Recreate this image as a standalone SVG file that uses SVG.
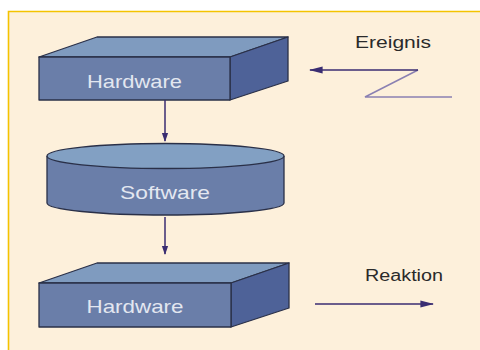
<svg xmlns="http://www.w3.org/2000/svg" width="480" height="350" viewBox="0 0 480 350">
  <defs>
    <style>
      .edge { stroke: #2a3048; stroke-width: 1.3; stroke-linejoin: round; }
      .top { fill: #7f9bbf; }
      .front { fill: #6a7ea9; }
      .side { fill: #4e6298; }
      .cyl-top { fill: #82a0c3; }
      .label-in { font-family: "Liberation Sans", Arial, sans-serif; font-size: 19px; fill: #e3e7f0; text-anchor: middle; }
      .label-out { font-family: "Liberation Sans", Arial, sans-serif; font-size: 16px; fill: #2a2a2a; text-anchor: middle; }
      .flow { stroke: #3a2d72; stroke-width: 1.5; fill: none; }
      .signal { stroke: #8a80b2; stroke-width: 1.5; fill: none; }
    </style>
    <marker id="head" viewBox="0 0 10 10" refX="9" refY="5" markerWidth="9" markerHeight="9" markerUnits="userSpaceOnUse" orient="auto">
      <path d="M0,1.5 L10,5 L0,8.5 Z" fill="#3a2d72"/>
    </marker>
    <marker id="head-wide" viewBox="0 0 10 10" refX="9" refY="5" markerWidth="14" markerHeight="10" markerUnits="userSpaceOnUse" orient="auto" preserveAspectRatio="none">
      <path d="M0,1.5 L10,5 L0,8.5 Z" fill="#3a2d72"/>
    </marker>
  </defs>

  <!-- page -->
  <rect x="0" y="0" width="480" height="350" fill="#ffffff"/>
  <rect x="8" y="11" width="480" height="350" fill="#fdf0db"/>
  <path d="M8.5,350 L8.5,11.5 L480,11.5" fill="none" stroke="#f4c300" stroke-width="1.6"/>

  <!-- upper hardware block -->
  <g id="hardware-top">
    <polygon class="top edge" points="39,57 97,37 288,37 230,57"/>
    <polygon class="side edge" points="230,57 288,37 288,81 230,100"/>
    <rect class="front edge" x="39" y="57" width="191" height="43"/>
    <text class="label-in" x="134.5" y="88" textLength="95" lengthAdjust="spacingAndGlyphs">Hardware</text>
  </g>

  <!-- software cylinder -->
  <g id="software">
    <path class="front edge" d="M47,156 L47,203 A118.5,12 0 0 0 284,203 L284,156"/>
    <ellipse class="cyl-top edge" cx="165.5" cy="156" rx="118.5" ry="12.5"/>
    <text class="label-in" x="165" y="199" textLength="90" lengthAdjust="spacingAndGlyphs">Software</text>
  </g>

  <!-- lower hardware block -->
  <g id="hardware-bottom">
    <polygon class="top edge" points="39,283 97,263 289,263 231,283"/>
    <polygon class="side edge" points="231,283 289,263 289,308 231,327"/>
    <rect class="front edge" x="39" y="283" width="192" height="44"/>
    <text class="label-in" x="135" y="313" textLength="97" lengthAdjust="spacingAndGlyphs">Hardware</text>
  </g>

  <!-- event and reaction labels -->
  <g id="ereignis">
    <text class="label-out" x="393" y="48" textLength="76" lengthAdjust="spacingAndGlyphs">Ereignis</text>
  </g>
  <g id="reaktion">
    <text class="label-out" x="404" y="281" textLength="78" lengthAdjust="spacingAndGlyphs">Reaktion</text>
  </g>

  <!-- connectors -->
  <g id="connectors">
    <line class="flow" x1="165" y1="100" x2="165" y2="141" marker-end="url(#head)"/>
    <line class="flow" x1="165" y1="217" x2="165" y2="254" marker-end="url(#head)"/>
    <polyline class="signal" points="452,97 365,97 418,70"/>
    <line class="flow" x1="418" y1="70" x2="310" y2="70" marker-end="url(#head-wide)"/>
    <line class="flow" x1="315" y1="304" x2="433" y2="304" marker-end="url(#head-wide)"/>
  </g>
</svg>
